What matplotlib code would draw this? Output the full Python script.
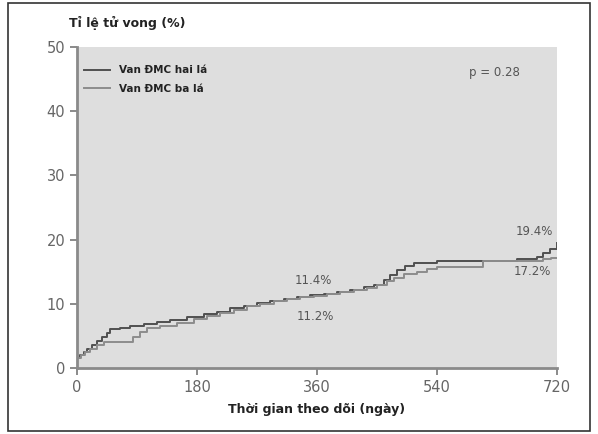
import matplotlib.pyplot as plt
from matplotlib.patches import Rectangle

# Kaplan-Meier style cumulative mortality
hai_la_days = [0, 5, 10, 15, 22, 30, 38, 45, 50, 65, 80, 100, 120, 140, 165, 190,
               210, 230, 250, 270, 290, 310, 330, 350, 370, 390, 410, 430, 445,
               460, 470, 480, 492, 505, 540, 660, 690, 700, 710, 720]
hai_la_pct = [1.5, 2.0, 2.5, 3.0, 3.6, 4.2, 4.9, 5.5, 6.0, 6.3, 6.6, 6.9, 7.2, 7.5,
              7.9, 8.4, 8.8, 9.3, 9.7, 10.1, 10.4, 10.7, 11.0, 11.4, 11.6, 11.9,
              12.2, 12.6, 13.0, 13.7, 14.5, 15.2, 15.9, 16.4, 16.6, 16.9, 17.3,
              17.9, 18.6, 19.4]

ba_la_days = [0, 6, 12, 20, 30, 40, 84, 95, 105, 125, 150, 175, 195, 215, 235, 255,
              275, 295, 315, 335, 355, 375, 395, 415, 435, 450, 465, 475, 490, 510,
              525, 540, 609, 700, 712, 720]
ba_la_pct = [1.5, 2.0, 2.5, 3.0, 3.6, 4.0, 4.8, 5.6, 6.3, 6.6, 7.0, 7.6, 8.1, 8.6,
             9.1, 9.6, 10.0, 10.4, 10.8, 11.0, 11.2, 11.5, 11.8, 12.1, 12.5, 13.0,
             13.5, 14.0, 14.6, 15.0, 15.4, 15.7, 16.7, 17.0, 17.2, 17.2]

series_names = ["Van ĐMC hai lá", "Van ĐMC ba lá"]
x_ticks = [0, 180, 360, 540, 720]
y_ticks = [0, 10, 20, 30, 40, 50]

fig = plt.figure(figsize=(5.98, 4.34), dpi=100)
ax = fig.add_axes([0.129, 0.152, 0.802, 0.740])
ax.set_facecolor("#dedede")

ax.step(hai_la_days, hai_la_pct, where="post", color="#505050", lw=1.4, label=series_names[0])
ax.step(ba_la_days, ba_la_pct, where="post", color="#8c8c8c", lw=1.4, label=series_names[1])

ax.set_xlim(0, 720)
ax.set_ylim(0, 50)
ax.set_xticks(x_ticks)
ax.set_yticks(y_ticks)
ax.tick_params(colors="#777777", labelcolor="#666666", labelsize=10.5, width=1.2, length=5)
for s in ["top", "right"]:
    ax.spines[s].set_visible(False)
for s in ["left", "bottom"]:
    ax.spines[s].set_color("#8a8a8a")
    ax.spines[s].set_linewidth(2)
    ax.spines[s].set_zorder(5)

ax.set_xlabel("Thời gian theo dõi (ngày)", fontsize=9, fontweight="bold", color="#222222", labelpad=6)
fig.text(0.115, 0.948, "Tỉ lệ tử vong (%)", fontsize=9, fontweight="bold", color="#222222",
         ha="left", va="center")

leg = ax.legend(loc="upper left", frameon=False, fontsize=7.5, handlelength=2.5,
                borderaxespad=0.3, labelspacing=0.8, bbox_to_anchor=(0.0, 0.965))
for t in leg.get_texts():
    t.set_fontweight("bold")
    t.set_color("#222222")

ax.text(627, 46, "p = 0.28", fontsize=8.5, color="#555555", ha="center", va="center")
ax.text(355, 13.6, "11.4%", fontsize=8.5, color="#555555", ha="center", va="center")
ax.text(358, 8.1, "11.2%", fontsize=8.5, color="#555555", ha="center", va="center")
ax.text(687, 21.2, "19.4%", fontsize=8.5, color="#555555", ha="center", va="center")
ax.text(684, 15.0, "17.2%", fontsize=8.5, color="#555555", ha="center", va="center")

# outer frame around the figure
fig.patches.append(Rectangle((8 / 598, 3 / 434), 582 / 598, 428 / 434, transform=fig.transFigure,
                             fill=False, edgecolor="#333333", lw=1.2))

fig.savefig("out.png", dpi=100)
